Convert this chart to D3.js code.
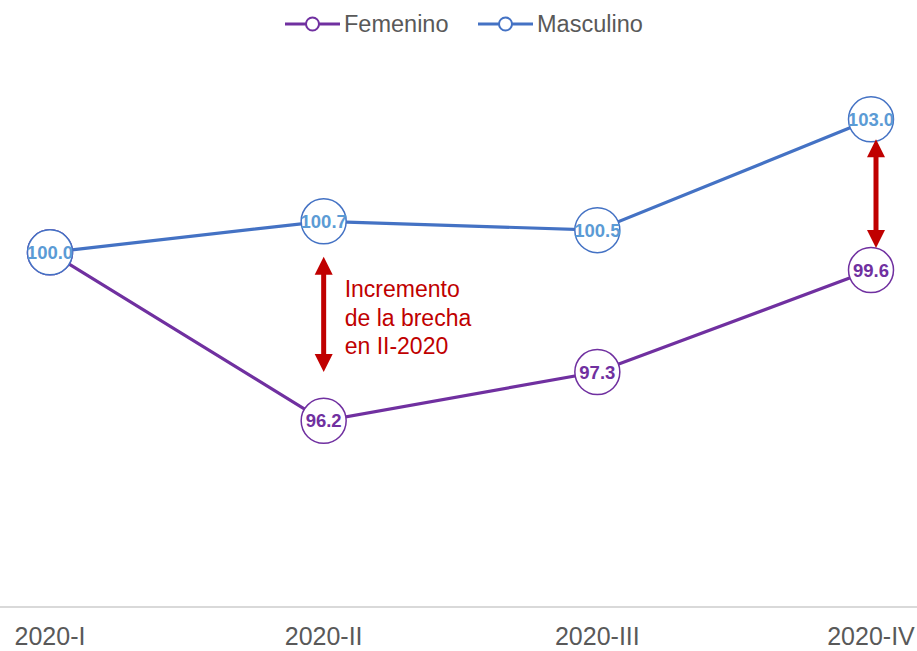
<!DOCTYPE html>
<html>
<head>
<meta charset="utf-8">
<script src="https://cdn.jsdelivr.net/npm/d3@7"></script>
<style>
  body { margin: 0; background: #fff; }
  svg { display: block; font-family: "Liberation Sans", Arial, sans-serif; }
</style>
</head>
<body>
<div id="chart-container"></div>
<script>
const quarters = ["2020-I", "2020-II", "2020-III", "2020-IV"];
const femenino = [100.0, 96.2, 97.3, 99.6];
const masculino = [100.0, 100.7, 100.5, 103.0];
const seriesNames = ["Femenino", "Masculino"];
// gap arrows: quarter, from value, to value
const gapArrows = [
    { q: "2020-II", from: 99.9, to: 97.3 },
    { q: "2020-IV", from: 102.55, to: 100.1 }
];
const noteLines = ["Incremento", "de la brecha", "en II-2020"];

const width = 917, height = 651;
const margin = ({ top: 75, right: 46, bottom: 44, left: 50 });
const colors = { Femenino: "#7030A0", Masculino: "#4472C4" };
const labelColors = { Femenino: "#7030A0", Masculino: "#5B9BD5" };
const red = "#C00000";

const svg = d3.select("#chart-container")
    .append("svg")
    .attr("width", width)
    .attr("height", height);

const x = d3.scalePoint()
    .domain(quarters)
    .range([margin.left, width - margin.right]);

const y = d3.scaleLinear()
    .domain([92, 104])
    .range([height - margin.bottom, margin.top]);

// baseline axis
svg.append("line")
    .attr("x1", 0).attr("x2", width)
    .attr("y1", y(92)).attr("y2", y(92))
    .attr("stroke", "#d9d9d9")
    .attr("stroke-width", 2);

svg.append("g")
    .selectAll("text")
    .data(quarters)
    .join("text")
    .attr("x", d => x(d))
    .attr("y", height - 6)
    .attr("text-anchor", "middle")
    .attr("font-size", 25)
    .attr("fill", "#595959")
    .text(d => d);

const series = [
    { name: "Femenino", values: femenino },
    { name: "Masculino", values: masculino }
];

const line = d3.line()
    .x((d, i) => x(quarters[i]))
    .y(d => y(d));

// lines first, then markers on top
series.forEach(s => {
    svg.append("path")
        .datum(s.values)
        .attr("fill", "none")
        .attr("stroke", colors[s.name])
        .attr("stroke-width", 3.2)
        .attr("d", line);
});

series.forEach(s => {
    const g = svg.append("g");
    g.selectAll("circle")
        .data(s.values)
        .join("circle")
        .attr("cx", (d, i) => x(quarters[i]))
        .attr("cy", d => y(d))
        .attr("r", 22.5)
        .attr("fill", "#fff")
        .attr("stroke", colors[s.name])
        .attr("stroke-width", 1.5);
    g.selectAll("text")
        .data(s.values)
        .join("text")
        .attr("x", (d, i) => x(quarters[i]))
        .attr("y", d => y(d) + 6.5)
        .attr("text-anchor", "middle")
        .attr("font-size", 18.5)
        .attr("font-weight", "bold")
        .attr("fill", labelColors[s.name])
        .text(d => d.toFixed(1));
});

// double-headed arrows
const head = 18, headW = 9;
gapArrows.forEach((a, k) => {
    const ax = x(a.q) + (k === 1 ? 5 : 0);
    const y1 = y(a.from), y2 = y(a.to);
    svg.append("line")
        .attr("x1", ax).attr("x2", ax)
        .attr("y1", y1 + head - 2).attr("y2", y2 - head + 2)
        .attr("stroke", red)
        .attr("stroke-width", 5);
    svg.append("path")
        .attr("d", `M${ax},${y1} L${ax - headW},${y1 + head} L${ax + headW},${y1 + head} Z`)
        .attr("fill", red);
    svg.append("path")
        .attr("d", `M${ax},${y2} L${ax - headW},${y2 - head} L${ax + headW},${y2 - head} Z`)
        .attr("fill", red);
});

svg.append("g")
    .selectAll("text")
    .data(noteLines)
    .join("text")
    .attr("x", x("2020-II") + 21)
    .attr("y", (d, i) => 297 + i * 28.5)
    .attr("font-size", 23)
    .attr("fill", red)
    .text(d => d);

// legend
const legend = svg.append("g");
const legendX = [285, 478];
seriesNames.forEach((name, i) => {
    const lx = legendX[i], ly = 24;
    legend.append("line")
        .attr("x1", lx).attr("x2", lx + 55)
        .attr("y1", ly).attr("y2", ly)
        .attr("stroke", colors[name])
        .attr("stroke-width", 3.2);
    legend.append("circle")
        .attr("cx", lx + 27.5).attr("cy", ly)
        .attr("r", 6.5)
        .attr("fill", "#fff")
        .attr("stroke", colors[name])
        .attr("stroke-width", 2);
    legend.append("text")
        .attr("x", lx + 59)
        .attr("y", ly + 8)
        .attr("font-size", 23.5)
        .attr("fill", "#595959")
        .text(name);
});
</script>
</body>
</html>
